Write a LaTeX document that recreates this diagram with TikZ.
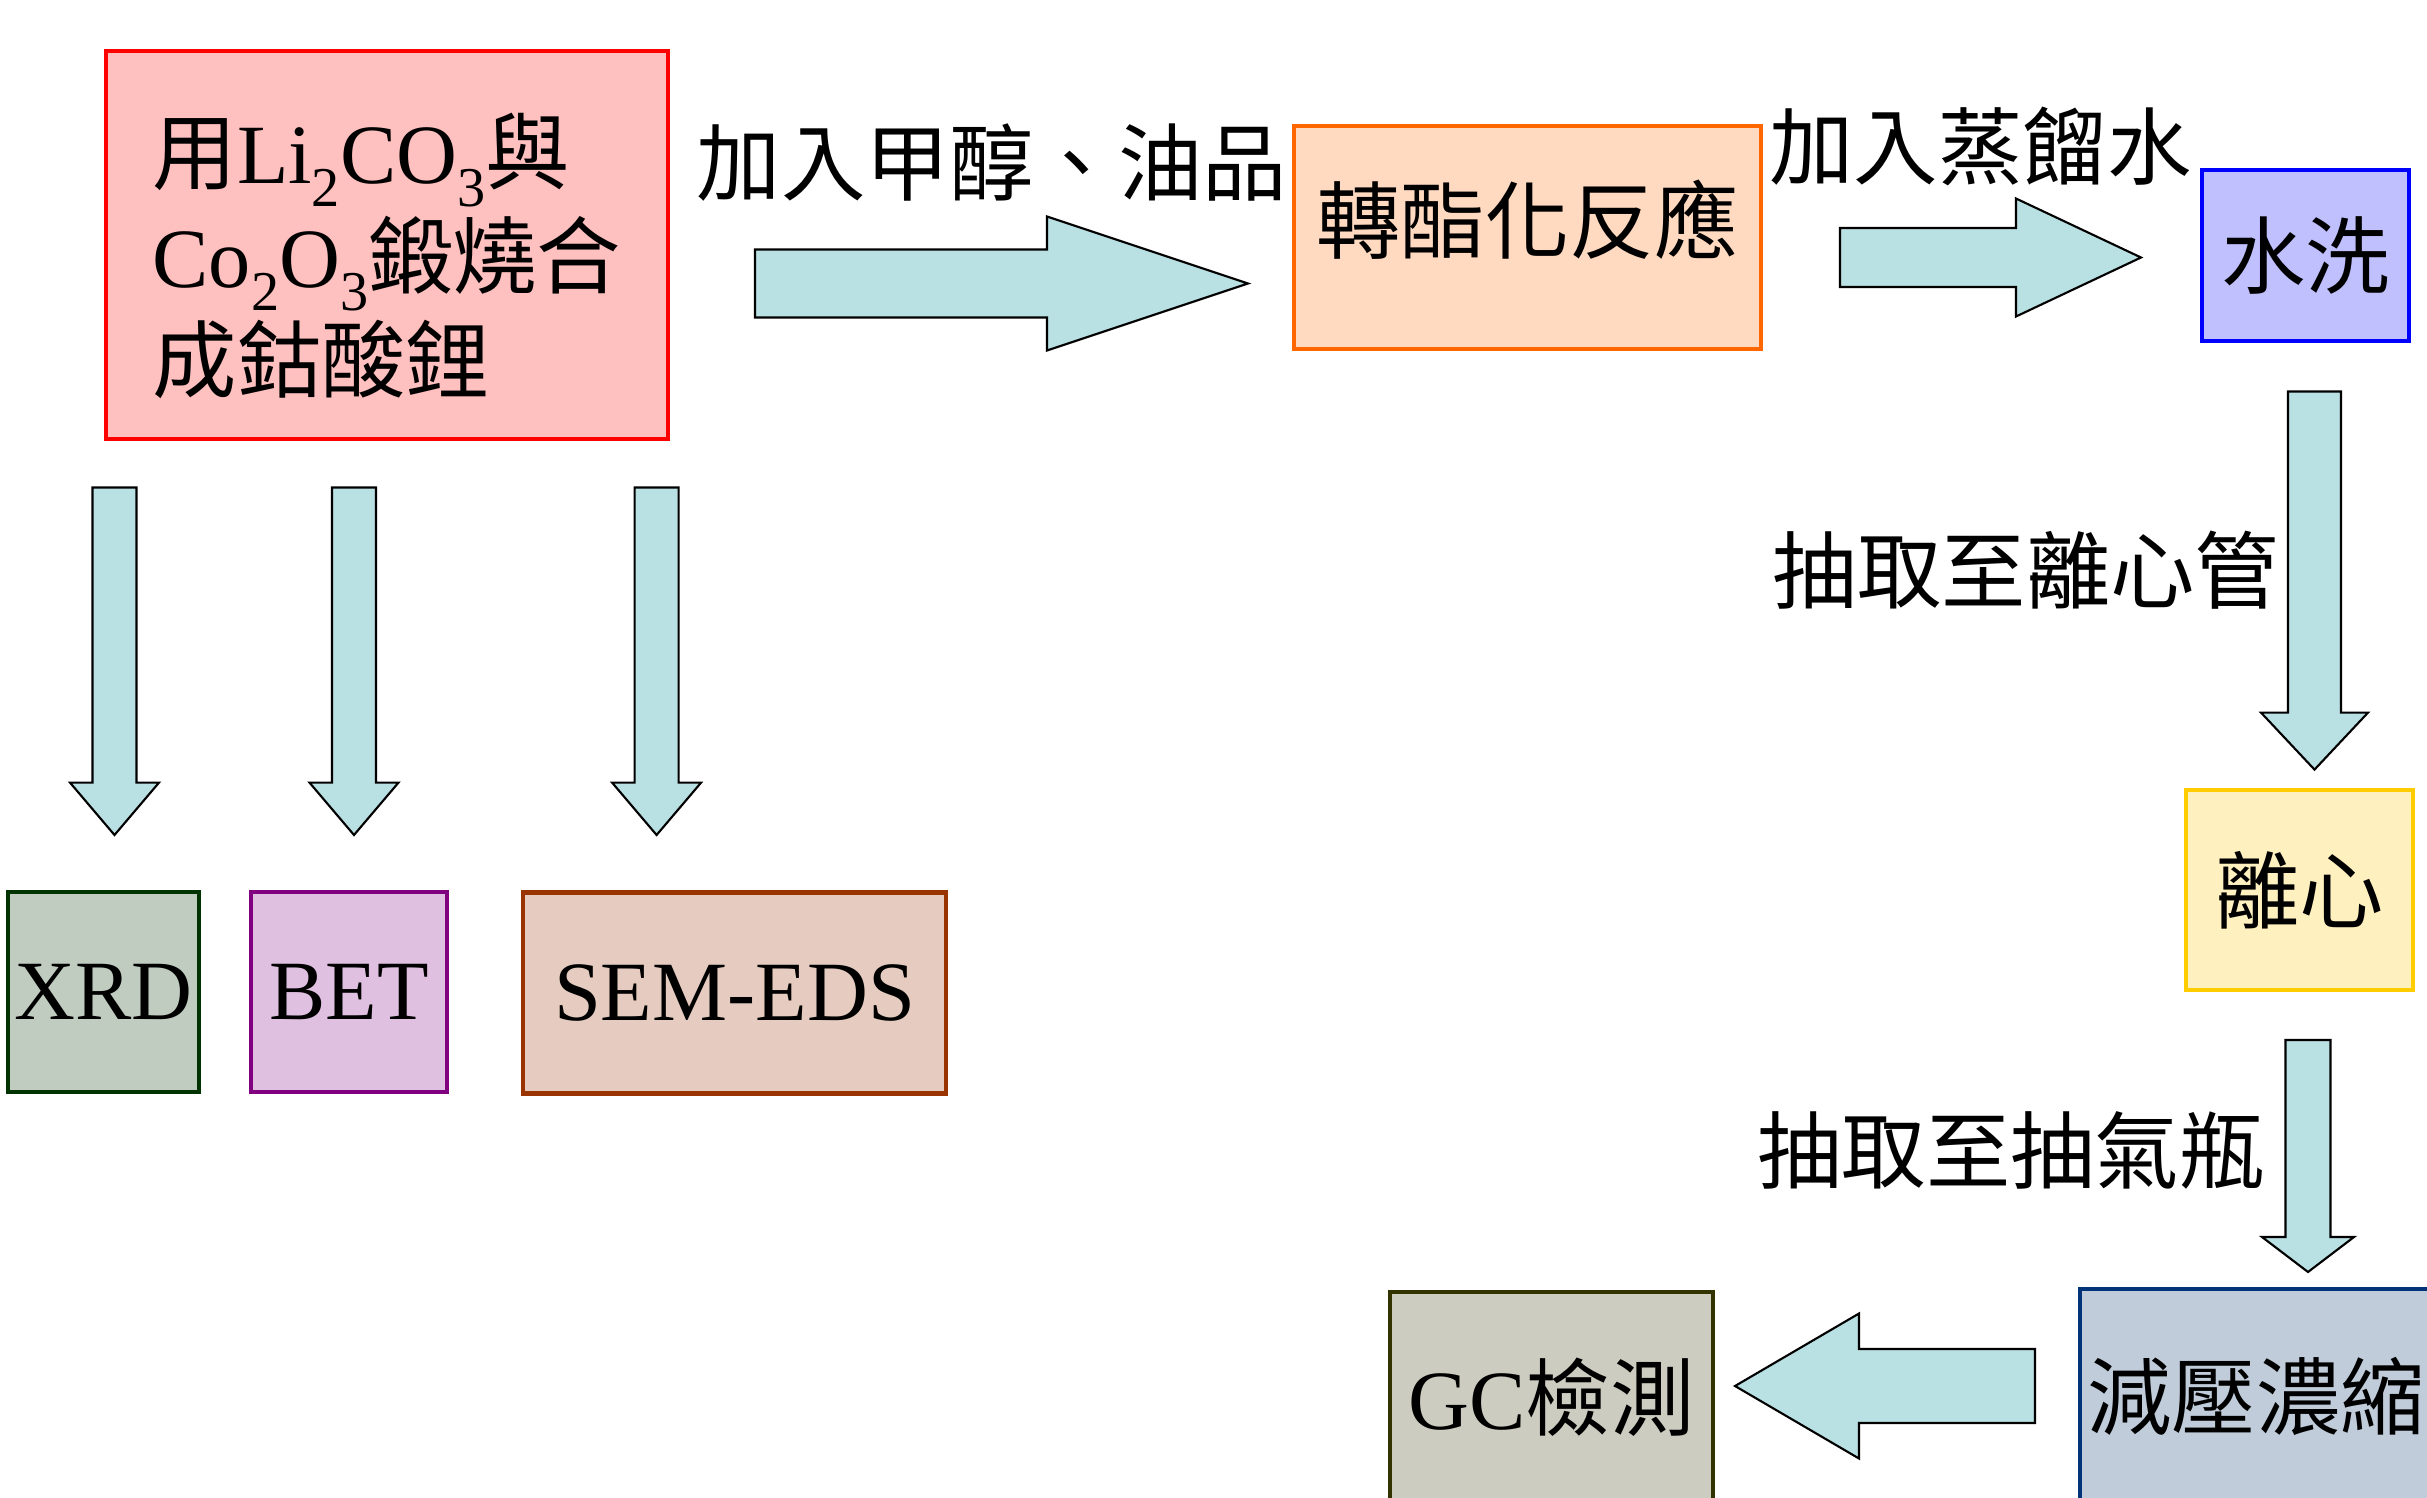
\documentclass[tikz,border=0pt]{standalone}
\usepackage{fontspec}
\setmainfont{Liberation Serif}
\newfontfamily\cjk{Noto Sans CJK TC}
\usetikzlibrary{calc}

\definecolor{matfill}{HTML}{FFC0C0}   \definecolor{matline}{HTML}{FF0000}
\definecolor{transfill}{HTML}{FFDAC0} \definecolor{transline}{HTML}{FF6600}
\definecolor{washfill}{HTML}{C0C0FF}  \definecolor{washline}{HTML}{0000FF}
\definecolor{centfill}{HTML}{FFF0C0}  \definecolor{centline}{HTML}{FFCC00}
\definecolor{evapfill}{HTML}{C0CCDA}  \definecolor{evapline}{HTML}{003377}
\definecolor{gcfill}{HTML}{CCCCC0}    \definecolor{gcline}{HTML}{333300}
\definecolor{xrdfill}{HTML}{C0CCC0}   \definecolor{xrdline}{HTML}{003300}
\definecolor{betfill}{HTML}{E0C0E0}   \definecolor{betline}{HTML}{800080}
\definecolor{semfill}{HTML}{E6CCC0}   \definecolor{semline}{HTML}{993300}
\definecolor{flowfill}{HTML}{B9E0E3}

% lowered subscript in the formulas
\newcommand{\chemsub}[1]{\raisebox{-6.5pt}{\fontsize{16}{16}\selectfont #1}}

\begin{document}
\begin{tikzpicture}[
    txt/.style={inner sep=0pt, font=\fontsize{24}{29.5}\selectfont},
    zh/.style={inner sep=0pt, font={\cjk\fontsize{24}{29.5}\selectfont}},
    box/.style={draw, line width=1.2pt, inner sep=0pt},
    % block arrow: shaft half width / head half width / head length
    flow/.style n args={3}{fill=flowfill, draw=black, line width=0.6pt,
      to path={
        ($(\tikztostart)!#1!90:(\tikztotarget)$)
        -- ($(\tikztotarget)!#3!(\tikztostart)!#1!90:(\tikztotarget)$)
        -- ($(\tikztotarget)!#3!(\tikztostart)!#2!90:(\tikztotarget)$)
        -- (\tikztotarget)
        -- ($(\tikztotarget)!#3!(\tikztostart)!#2!-90:(\tikztotarget)$)
        -- ($(\tikztotarget)!#3!(\tikztostart)!#1!-90:(\tikztotarget)$)
        -- ($(\tikztostart)!#1!-90:(\tikztotarget)$) -- cycle}}
  ]
  \useasboundingbox (0,0) rectangle (24.27,-14.98);

  % synthesis of the catalyst
  \node[box, draw=matline, fill=matfill, minimum width=5.62cm, minimum height=3.88cm,
    label={[txt, align=left, yshift=-0.11cm]center:{{\cjk 用}Li\chemsub{2}CO\chemsub{3}{\cjk 與}\\
      Co\chemsub{2}O\chemsub{3}{\cjk 鍛燒合}\\
      {\cjk 成鈷酸鋰}}}] (mat) at (3.87,-2.45) {};

  % process chain
  \node[box, draw=transline, fill=transfill, minimum width=4.67cm, minimum height=2.23cm,
    label={[zh, yshift=0.175cm]center:轉酯化反應}] (trans) at (15.275,-2.375) {};
  \node[box, zh, draw=washline, fill=washfill, minimum width=2.07cm, minimum height=1.71cm]
    (wash) at (23.055,-2.555) {水洗};
  \node[box, zh, draw=centline, fill=centfill, minimum width=2.27cm, minimum height=2.00cm]
    (cent) at (22.995,-8.90) {離心};
  \node[box, zh, draw=evapline, fill=evapfill, minimum width=3.52cm, minimum height=2.14cm]
    (evap) at (22.56,-13.96) {減壓濃縮};
  \node[box, txt, draw=gcline, fill=gcfill, minimum width=3.23cm, minimum height=2.10cm]
    (gc) at (15.515,-13.97) {GC{\cjk 檢測}};

  % characterisation
  \node[box, txt, draw=xrdline, fill=xrdfill, minimum width=1.91cm, minimum height=2.00cm]
    (xrd) at (1.0375,-9.92) {XRD};
  \node[box, txt, draw=betline, fill=betfill, minimum width=1.96cm, minimum height=2.00cm]
    (bet) at (3.49,-9.92) {BET};
  \node[box, txt, draw=semline, fill=semfill, minimum width=4.23cm, minimum height=2.01cm]
    (sem) at (7.345,-9.93) {SEM-EDS};

  % step labels
  \node[zh] (addoil) at (9.92,-1.63) {加入甲醇、油品};
  \node[zh] (addwater) at (19.805,-1.46) {加入蒸餾水};
  \node[zh] (totube) at (20.26,-5.70) {抽取至離心管};
  \node[zh] (toflask) at (20.105,-11.50) {抽取至抽氣瓶};

  % arrow ends
  \coordinate (a1s) at (7.55,-2.835);   \coordinate (a1e) at (12.48,-2.835);
  \coordinate (a2s) at (18.40,-2.575);  \coordinate (a2e) at (21.41,-2.575);
  \coordinate (a3s) at (23.145,-3.915); \coordinate (a3e) at (23.145,-7.696);
  \coordinate (a4s) at (23.08,-10.40);  \coordinate (a4e) at (23.08,-12.72);
  \coordinate (a5s) at (20.35,-13.86);  \coordinate (a5e) at (17.35,-13.86);
  \coordinate (b1s) at (1.145,-4.875);  \coordinate (b1e) at (1.145,-8.35);
  \coordinate (b2s) at (3.54,-4.875);   \coordinate (b2e) at (3.54,-8.35);
  \coordinate (b3s) at (6.566,-4.875);  \coordinate (b3e) at (6.566,-8.35);

  % arrows
  \draw[flow={0.34cm}{0.67cm}{2.01cm}] (a1s) to (a1e);
  \draw[flow={0.295cm}{0.59cm}{1.25cm}] (a2s) to (a2e);
  \draw[flow={0.265cm}{0.535cm}{0.57cm}] (a3s) to (a3e);
  \draw[flow={0.225cm}{0.46cm}{0.35cm}] (a4s) to (a4e);
  \draw[flow={0.37cm}{0.725cm}{1.24cm}] (a5s) to (a5e);
  \foreach \k in {1,2,3}
    \draw[flow={0.22cm}{0.445cm}{0.524cm}] (b\k s) to (b\k e);
\end{tikzpicture}
\end{document}
